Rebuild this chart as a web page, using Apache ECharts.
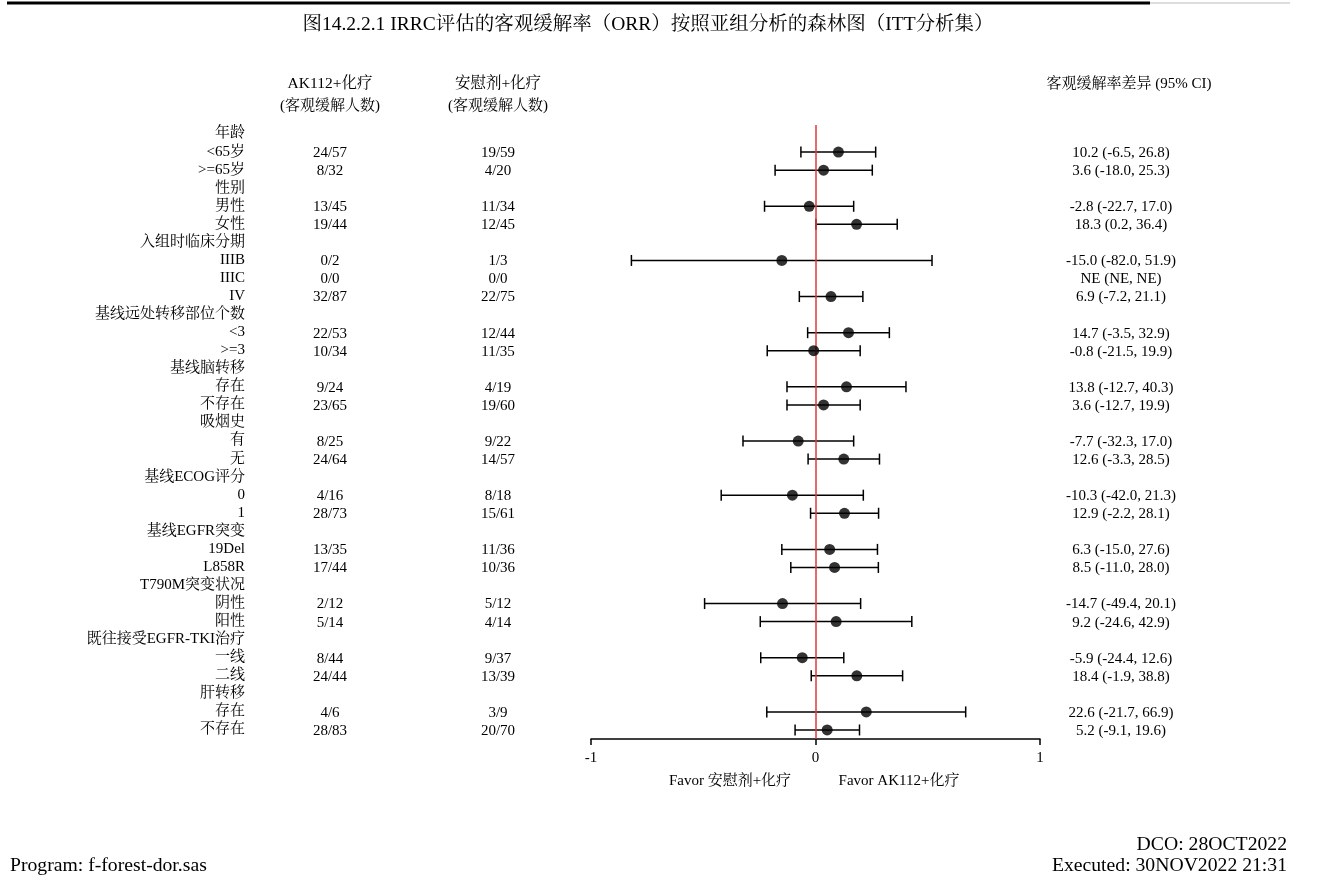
<!DOCTYPE html>
<html>
<head>
<meta charset="utf-8">
<script src="https://cdn.jsdelivr.net/npm/echarts@6/dist/echarts.min.js"></script>
<style>
  html, body { margin: 0; padding: 0; background: #fff; }
  #chart { width: 1330px; height: 895px; }
</style>
</head>
<body>
<div id="chart"></div>
<script>
// subgroup rows, top to bottom; header rows have no counts
const labels = ['年龄', '<65岁', '>=65岁', '性别', '男性', '女性', '入组时临床分期', 'IIIB', 'IIIC', 'IV',
  '基线远处转移部位个数', '<3', '>=3', '基线脑转移', '存在', '不存在', '吸烟史', '有', '无',
  '基线ECOG评分', '0', '1', '基线EGFR突变', '19Del', 'L858R', 'T790M突变状况', '阴性', '阳性',
  '既往接受EGFR-TKI治疗', '一线', '二线', '肝转移', '存在', '不存在']
const ak112 = [null, '24/57', '8/32', null, '13/45', '19/44', null, '0/2', '0/0', '32/87',
  null, '22/53', '10/34', null, '9/24', '23/65', null, '8/25', '24/64',
  null, '4/16', '28/73', null, '13/35', '17/44', null, '2/12', '5/14',
  null, '8/44', '24/44', null, '4/6', '28/83']
const placebo = [null, '19/59', '4/20', null, '11/34', '12/45', null, '1/3', '0/0', '22/75',
  null, '12/44', '11/35', null, '4/19', '19/60', null, '9/22', '14/57',
  null, '8/18', '15/61', null, '11/36', '10/36', null, '5/12', '4/14',
  null, '9/37', '13/39', null, '3/9', '20/70']
// ORR difference (%) and 95% CI
const diff = [null, 10.2, 3.6, null, -2.8, 18.3, null, -15.0, 'NE', 6.9,
  null, 14.7, -0.8, null, 13.8, 3.6, null, -7.7, 12.6,
  null, -10.3, 12.9, null, 6.3, 8.5, null, -14.7, 9.2,
  null, -5.9, 18.4, null, 22.6, 5.2]
const lower = [null, -6.5, -18.0, null, -22.7, 0.2, null, -82.0, 'NE', -7.2,
  null, -3.5, -21.5, null, -12.7, -12.7, null, -32.3, -3.3,
  null, -42.0, -2.2, null, -15.0, -11.0, null, -49.4, -24.6,
  null, -24.4, -1.9, null, -21.7, -9.1]
const upper = [null, 26.8, 25.3, null, 17.0, 36.4, null, 51.9, 'NE', 21.1,
  null, 32.9, 19.9, null, 40.3, 19.9, null, 17.0, 28.5,
  null, 21.3, 28.1, null, 27.6, 28.0, null, 20.1, 42.9,
  null, 12.6, 38.8, null, 66.9, 19.6]
const xTicks = [-1, 0, 1]

const FONT = "'Liberation Serif', 'Noto Serif CJK SC', 'Noto Sans CJK SC', serif"
const fmt = v => (typeof v === 'number' ? v.toFixed(1) : v)

const rowIdx = labels.map((_, i) => i)
const points = []
const bars = []
labels.forEach((_, i) => {
  if (typeof diff[i] === 'number') {
    points.push([diff[i] / 100, i])
    bars.push([lower[i] / 100, upper[i] / 100, i])
  }
})
const textRows = labels.map((_, i) => [0, i])

const chart = echarts.init(document.getElementById('chart'))

const txt = (x, y, text, size, align) => ({
  type: 'text', x, y,
  style: { text, fill: '#000', font: size + 'px ' + FONT, textAlign: align, textVerticalAlign: 'middle' }
})

chart.setOption({
  animation: false,
  backgroundColor: '#fff',
  textStyle: { fontFamily: FONT },
  grid: { left: 591, right: 290, top: 125, bottom: 156 },
  xAxis: {
    type: 'value',
    min: xTicks[0],
    max: xTicks[xTicks.length - 1],
    interval: 1,
    splitLine: { show: false },
    axisLine: { show: true, lineStyle: { color: '#000', width: 1.5 } },
    axisTick: { show: true, length: 6, lineStyle: { color: '#000', width: 1.5 } },
    axisLabel: { color: '#000', fontSize: 15, fontFamily: FONT, margin: 12 }
  },
  yAxis: {
    type: 'category',
    data: rowIdx,
    inverse: true,
    show: false
  },
  graphic: [
    { type: 'line', shape: { x1: 7, y1: 3, x2: 1150, y2: 3 }, style: { stroke: '#000', lineWidth: 3 } },
    { type: 'line', shape: { x1: 1150, y1: 3, x2: 1290, y2: 3 }, style: { stroke: '#bbb', lineWidth: 1 } },
    txt(648, 25, '图14.2.2.1 IRRC评估的客观缓解率（ORR）按照亚组分析的森林图（ITT分析集）', 19.5, 'center'),
    txt(330, 84, 'AK112+化疗', 15.5, 'center'),
    txt(330, 106, '(客观缓解人数)', 15, 'center'),
    txt(498, 84, '安慰剂+化疗', 15.5, 'center'),
    txt(498, 106, '(客观缓解人数)', 15, 'center'),
    txt(1129, 84, '客观缓解率差异 (95% CI)', 15, 'center'),
    txt(730, 781, 'Favor 安慰剂+化疗', 15, 'center'),
    txt(899, 781, 'Favor AK112+化疗', 15, 'center'),
    txt(1287, 845, 'DCO: 28OCT2022', 19.7, 'right'),
    txt(1287, 866, 'Executed: 30NOV2022 21:31', 19.7, 'right'),
    txt(10, 866, 'Program: f-forest-dor.sas', 19.7, 'left')
  ],
  series: [
    {
      // text columns: subgroup, counts, difference with CI
      type: 'custom',
      clip: false,
      silent: true,
      data: textRows,
      renderItem: (params, api) => {
        const i = api.value(1)
        const y = api.coord([0, i])[1]
        const base = { fill: '#000', font: '15px ' + FONT, textVerticalAlign: 'middle' }
        const kids = [
          { type: 'text', x: 245, y: y - 0.5, style: { ...base, text: labels[i], textAlign: 'right' } }
        ]
        if (ak112[i] !== null) {
          kids.push({ type: 'text', x: 330, y: y + 1, style: { ...base, text: ak112[i], textAlign: 'center' } })
          kids.push({ type: 'text', x: 498, y: y + 1, style: { ...base, text: placebo[i], textAlign: 'center' } })
          kids.push({
            type: 'text', x: 1121, y: y + 1,
            style: { ...base, text: `${fmt(diff[i])} (${fmt(lower[i])}, ${fmt(upper[i])})`, textAlign: 'center' }
          })
        }
        return { type: 'group', children: kids }
      }
    },
    {
      // confidence interval bars with caps
      type: 'custom',
      silent: true,
      data: bars,
      renderItem: (params, api) => {
        const a = api.coord([api.value(0), api.value(2)])
        const b = api.coord([api.value(1), api.value(2)])
        const cap = 5.5
        const st = { stroke: '#000', lineWidth: 1.5 }
        return {
          type: 'group',
          children: [
            { type: 'line', shape: { x1: a[0], y1: a[1], x2: b[0], y2: b[1] }, style: st },
            { type: 'line', shape: { x1: a[0], y1: a[1] - cap, x2: a[0], y2: a[1] + cap }, style: st },
            { type: 'line', shape: { x1: b[0], y1: b[1] - cap, x2: b[0], y2: b[1] + cap }, style: st }
          ]
        }
      }
    },
    {
      type: 'scatter',
      data: points,
      symbol: 'circle',
      symbolSize: 11,
      itemStyle: { color: '#000' },
      z: 5,
      markLine: {
        silent: true,
        symbol: 'none',
        label: { show: false },
        lineStyle: { color: '#e03a3a', width: 1.5, type: 'solid' },
        data: [{ xAxis: 0 }]
      }
    }
  ]
})
</script>
</body>
</html>
